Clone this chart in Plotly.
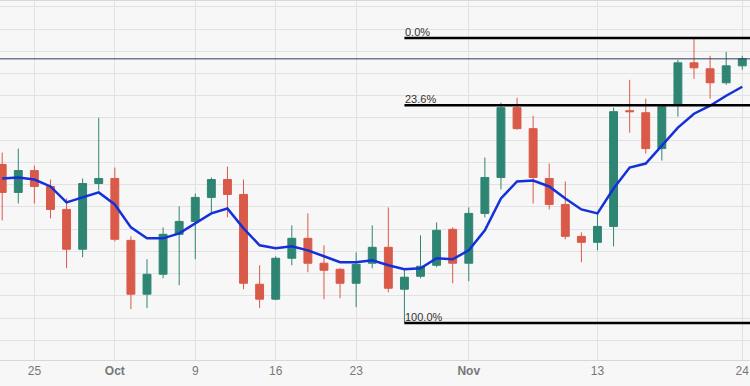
import plotly.graph_objects as go

dates = ["2023-09-21", "2023-09-22", "2023-09-25", "2023-09-26", "2023-09-27", "2023-09-28", "2023-09-29",
         "2023-10-02", "2023-10-03", "2023-10-04", "2023-10-05", "2023-10-06",
         "2023-10-09", "2023-10-10", "2023-10-11", "2023-10-12", "2023-10-13",
         "2023-10-16", "2023-10-17", "2023-10-18", "2023-10-19", "2023-10-20",
         "2023-10-23", "2023-10-24", "2023-10-25", "2023-10-26", "2023-10-27",
         "2023-10-30", "2023-10-31", "2023-11-01", "2023-11-02", "2023-11-03",
         "2023-11-06", "2023-11-07", "2023-11-08", "2023-11-09", "2023-11-10",
         "2023-11-13", "2023-11-14", "2023-11-15", "2023-11-16", "2023-11-17",
         "2023-11-20", "2023-11-21", "2023-11-22", "2023-11-23", "2023-11-24"]

open_ = [0.64477, 0.64163, 0.64409, 0.64230, 0.63972, 0.63524, 0.64263,
         0.64320, 0.63624, 0.63019, 0.63243, 0.63692,
         0.63837, 0.64107, 0.64308, 0.64140, 0.63131,
         0.62963, 0.63423, 0.63647, 0.63367, 0.63299,
         0.63142, 0.63367, 0.63546, 0.63075, 0.63221,
         0.63344, 0.63748, 0.63367, 0.63927, 0.64331,
         0.65116, 0.64880, 0.64320, 0.64028, 0.63669,
         0.63602, 0.63781, 0.65082, 0.65059, 0.64656,
         0.65149, 0.65620, 0.65553, 0.65396, 0.65586]
high = [0.64611, 0.64656, 0.64465, 0.64308, 0.64095, 0.64320, 0.65003,
        0.64443, 0.63669, 0.63412, 0.63770, 0.64006,
        0.64151, 0.64331, 0.64454, 0.64308, 0.63344,
        0.63445, 0.63793, 0.63927, 0.63568, 0.63311,
        0.63490, 0.63793, 0.63994, 0.63311, 0.63681,
        0.63826, 0.63770, 0.63994, 0.64555, 0.65172,
        0.65228, 0.65026, 0.64488, 0.64286, 0.63714,
        0.63927, 0.65116, 0.65429, 0.65216, 0.65149,
        0.65654, 0.65900, 0.65699, 0.65743, 0.65699]
low = [0.63849, 0.64039, 0.64039, 0.63871, 0.63311, 0.63434, 0.64185,
       0.63613, 0.62851, 0.62862, 0.63198, 0.63120,
       0.63412, 0.63938, 0.63882, 0.63075, 0.62862,
       0.62952, 0.63344, 0.63266, 0.62963, 0.62974,
       0.62873, 0.63311, 0.63041, 0.62694, 0.63198,
       0.63322, 0.63142, 0.63165, 0.63882, 0.64196,
       0.64869, 0.64039, 0.63972, 0.63636, 0.63378,
       0.63512, 0.63557, 0.64835, 0.64600, 0.64521,
       0.65015, 0.65441, 0.65216, 0.65373, 0.65542]
close = [0.64163, 0.64409, 0.64230, 0.63972, 0.63524, 0.64263, 0.64320,
         0.63636, 0.63019, 0.63243, 0.63692, 0.63837,
         0.64107, 0.64308, 0.64140, 0.63142, 0.62963,
         0.63423, 0.63647, 0.63367, 0.63288, 0.63142,
         0.63355, 0.63546, 0.63086, 0.63210, 0.63333,
         0.63737, 0.63367, 0.63927, 0.64331, 0.65116,
         0.64880, 0.64331, 0.64028, 0.63669, 0.63602,
         0.63781, 0.65071, 0.65071, 0.64656, 0.65127,
         0.65620, 0.65564, 0.65396, 0.65586, 0.65665]
moving_avg = [0.64320, 0.64331, 0.64308, 0.64230, 0.64051, 0.64107, 0.64163,
              0.64028, 0.63770, 0.63647, 0.63647, 0.63703,
              0.63815, 0.63927, 0.63983, 0.63759, 0.63568,
              0.63535, 0.63557, 0.63512, 0.63445, 0.63378,
              0.63378, 0.63400, 0.63344, 0.63299, 0.63311,
              0.63423, 0.63412, 0.63512, 0.63737, 0.64095,
              0.64286, 0.64297, 0.64230, 0.64095, 0.63972,
              0.63927, 0.64207, 0.64443, 0.64488, 0.64689,
              0.64891, 0.65048, 0.65138, 0.65250, 0.65351]

tick_dates = ["2023-09-25", "2023-10-02", "2023-10-09", "2023-10-16", "2023-10-23",
              "2023-11-01", "2023-11-13", "2023-11-24"]
tick_labels = ["25", "<b>Oct</b>", "9", "16", "23", "<b>Nov</b>", "13", "24"]

fib_start = "2023-10-26"
fib_high = 0.65900
fib_low = 0.62694
fib_ratios = [0.0, 0.236, 1.0]
fib_labels = ["0.0%", "23.6%", "100.0%"]
last_price = 0.65665

green = "#2f8573"
red = "#d95a48"

fig = go.Figure()
fig.add_trace(go.Candlestick(
    x=dates, open=open_, high=high, low=low, close=close,
    increasing=dict(line=dict(color=green, width=1), fillcolor=green),
    decreasing=dict(line=dict(color=red, width=1), fillcolor=red),
    whiskerwidth=0, showlegend=False, hoverinfo="skip"))
fig.add_trace(go.Scatter(
    x=dates, y=moving_avg, mode="lines",
    line=dict(color="#1430d8", width=2.5), showlegend=False, hoverinfo="skip"))

shapes = []
annotations = []
n = len(dates)
for r, lab in zip(fib_ratios, fib_labels):
    lvl = fib_high - r * (fib_high - fib_low)
    shapes.append(dict(type="line", xref="x", yref="y", x0=dates.index(fib_start), x1=n + 1,
                       y0=lvl, y1=lvl, line=dict(color="#000000", width=2.5), layer="above"))
    annotations.append(dict(x=dates.index(fib_start), y=lvl, xref="x", yref="y", text=lab,
                            showarrow=False, xanchor="left", yanchor="bottom",
                            font=dict(family="Liberation Sans, Arial", size=11, color="#333333"),
                            borderpad=0, yshift=-1))
shapes.append(dict(type="line", xref="paper", yref="y", x0=0, x1=1, y0=last_price, y1=last_price,
                   line=dict(color="#2c3b5e", width=1), layer="above"))

bg = "#f7f7f7"
fig.update_layout(
    width=750, height=386,
    margin=dict(l=0, r=0, t=1, b=26),
    paper_bgcolor=bg, plot_bgcolor=bg,
    shapes=shapes, annotations=annotations,
    boxgap=0.3,
    font=dict(family="Liberation Sans, Arial", size=12, color="#777777"),
)
fig.update_xaxes(
    type="category", range=[-0.137, 46.48],
    tickvals=tick_dates, ticktext=tick_labels,
    showgrid=True, gridcolor="#e2e2e2", gridwidth=1,
    showline=True, linecolor="#d3d7de", mirror=True,
    ticks="", rangeslider=dict(visible=False),
    tickfont=dict(size=12, color="#777777"),
)
fig.update_yaxes(
    range=[0.622791, 0.663151], tick0=0.625, dtick=0.0025,
    showgrid=True, gridcolor="#e2e2e2", gridwidth=1,
    showticklabels=False, zeroline=False, showline=False,
)

fig.write_html("out.html", config={"displayModeBar": False},
               post_script="document.body.style.margin='0';document.body.style.overflow='hidden';")
